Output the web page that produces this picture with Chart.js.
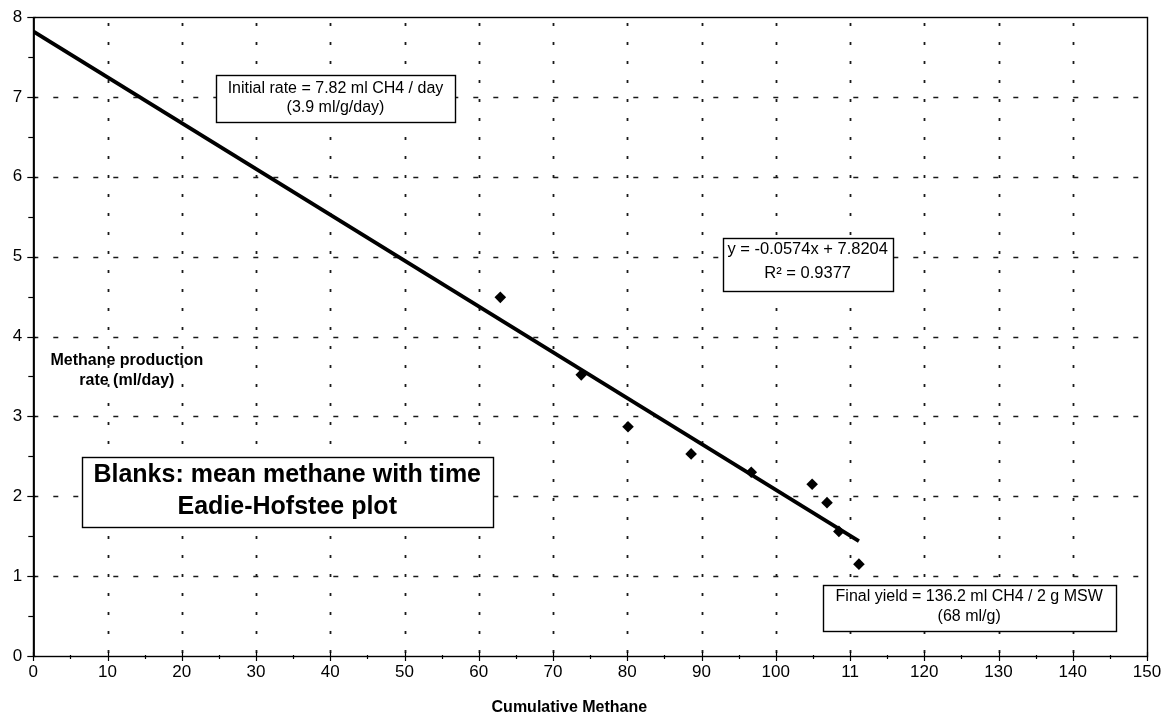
<!DOCTYPE html>
<html>
<head>
<meta charset="utf-8">
<title>Blanks: mean methane with time - Eadie-Hofstee plot</title>
<script src="https://cdn.jsdelivr.net/npm/chart.js@4"></script>
<style>
    body { margin: 0; background: #fff; }
    #plot { display: block; }
</style>
</head>
<body>
<canvas id="plot" width="1163" height="715"></canvas>
<script>
// measured points
const cumulativeMethane = [62.9, 73.8, 80.1, 88.6, 96.7, 104.9, 106.9, 108.5, 111.2];
const productionRate = [4.49, 3.52, 2.87, 2.53, 2.30, 2.15, 1.92, 1.56, 1.15];

// linear fit shown on the chart
const trendSlope = -0.0574;
const trendIntercept = 7.8204;

// axis labels
const xTickLabels = ['0', '10', '20', '30', '40', '50', '60', '70', '80', '90', '100', '11', '120', '130', '140', '150'];
const yTickLabels = ['0', '1', '2', '3', '4', '5', '6', '7', '8'];

const FONT = '"Liberation Sans", Arial, Helvetica, sans-serif';

// trend line runs from the y axis to the last measured point
const trendEnd = Math.max(...cumulativeMethane);
const trendPoints = [0, trendEnd].map(x => ({ x: x, y: trendSlope * x + trendIntercept }));

// text boxes: centre in data units, size in px
const notes = [
    { x: 40.7, y: 6.98, w: 239, h: 47, font: '16px ' + FONT, gap: 19, dy: 0,
      lines: ['Initial rate = 7.82 ml CH4 / day', '(3.9 ml/g/day)'] },
    { x: 104.3, y: 4.905, w: 170, h: 53, font: '16.5px ' + FONT, gap: 24, dy: -3,
      lines: ['y = -0.0574x + 7.8204', 'R² = 0.9377'] },
    { x: 34.2, y: 2.05, w: 411, h: 70, font: 'bold 25px ' + FONT, gap: 32, dy: -1,
      lines: ['Blanks: mean methane with time', 'Eadie-Hofstee plot'] },
    { x: 126.05, y: 0.6, w: 293, h: 46, font: '16px ' + FONT, gap: 20, dy: -1,
      lines: ['Final yield = 136.2 ml CH4 / 2 g MSW', '(68 ml/g)'] }
];

// axis titles, drawn without a box
const yTitle = { x: 12.6, y: 3.575, font: 'bold 16px ' + FONT, gap: 20, dy: 0,
    lines: ['Methane production', 'rate (ml/day)'] };
const xTitle = { x: 72.2, font: 'bold 16px ' + FONT, gap: 0, dy: 0,
    lines: ['Cumulative Methane'] };

// dashed horizontal and dotted vertical grid, plus Excel-like tick marks
const gridPlugin = {
    id: 'excelGrid',
    beforeDatasetsDraw(chart) {
        const { ctx, chartArea: a, scales: { x, y } } = chart;
        ctx.save();
        ctx.strokeStyle = '#1a1a1a';

        ctx.lineWidth = 1.4;
        ctx.setLineDash([5, 15]);
        for (let v = 1; v < 8; v++) {
            const py = Math.round(y.getPixelForValue(v)) + 0.5;
            ctx.beginPath();
            ctx.moveTo(a.left, py);
            ctx.lineTo(a.right, py);
            ctx.stroke();
        }

        ctx.lineWidth = 1.8;
        ctx.setLineDash([3, 16]);
        for (let v = 10; v < 150; v += 10) {
            const px = Math.round(x.getPixelForValue(v)) + 0.5;
            ctx.beginPath();
            ctx.moveTo(px, a.top + 6);
            ctx.lineTo(px, a.bottom);
            ctx.stroke();
        }
        ctx.setLineDash([]);

        // tick marks
        ctx.lineWidth = 1.2;
        ctx.strokeStyle = '#000';
        for (let v = 0; v <= 8; v += 0.5) {
            const py = Math.round(y.getPixelForValue(v)) + 0.5;
            const major = Number.isInteger(v);
            ctx.beginPath();
            ctx.moveTo(a.left - (major ? 6 : 5), py);
            ctx.lineTo(a.left + (major ? 3 : 0), py);
            ctx.stroke();
        }
        for (let v = 0; v <= 150; v += 5) {
            const px = Math.round(x.getPixelForValue(v)) + 0.5;
            const major = v % 10 === 0;
            ctx.beginPath();
            ctx.moveTo(px, a.bottom - (major ? 4 : 1));
            ctx.lineTo(px, a.bottom + (major ? 5 : 3));
            ctx.stroke();
        }

        // plot frame
        ctx.lineWidth = 1.4;
        ctx.strokeRect(a.left + 0.5, a.top + 0.5, a.right - a.left, a.bottom - a.top);
        ctx.lineWidth = 2;
        ctx.beginPath();
        ctx.moveTo(a.left + 0.5, a.top);
        ctx.lineTo(a.left + 0.5, a.bottom + 1);
        ctx.stroke();
        ctx.restore();
    }
};

function drawLines(ctx, cx, cy, item) {
    ctx.font = item.font;
    ctx.fillStyle = '#000';
    ctx.textAlign = 'center';
    ctx.textBaseline = 'middle';
    const top = cy + item.dy - item.gap * (item.lines.length - 1) / 2;
    item.lines.forEach((line, i) => ctx.fillText(line, cx, top + i * item.gap));
}

// annotation boxes drawn over the data
const notesPlugin = {
    id: 'notes',
    afterDatasetsDraw(chart) {
        const { ctx, scales: { x, y } } = chart;
        ctx.save();
        notes.forEach(n => {
            const cx = x.getPixelForValue(n.x);
            const cy = y.getPixelForValue(n.y);
            const left = Math.round(cx - n.w / 2) + 0.5;
            const top = Math.round(cy - n.h / 2) + 0.5;
            ctx.fillStyle = '#fff';
            ctx.fillRect(left, top, n.w, n.h);
            ctx.lineWidth = 1.4;
            ctx.strokeStyle = '#000';
            ctx.strokeRect(left, top, n.w, n.h);
            drawLines(ctx, cx, cy, n);
        });
        drawLines(ctx, x.getPixelForValue(yTitle.x), y.getPixelForValue(yTitle.y), yTitle);
        drawLines(ctx, x.getPixelForValue(xTitle.x), chart.height - 7, xTitle);
        ctx.restore();
    }
};

// keep label overhang from shrinking the plot area
function noOverhang(scale) {
    scale.paddingTop = 0;
    scale.paddingBottom = 0;
    scale.paddingLeft = 0;
    scale.paddingRight = 0;
}

new Chart(document.getElementById('plot'), {
    type: 'scatter',
    data: {
        datasets: [
            {
                label: 'Methane production rate',
                data: cumulativeMethane.map((x, i) => ({ x: x, y: productionRate[i] })),
                pointStyle: 'rectRot',
                pointRadius: 5.8,
                pointBackgroundColor: '#000',
                pointBorderColor: '#000',
                pointBorderWidth: 0,
                order: 1
            },
            {
                label: 'Linear fit',
                data: trendPoints,
                showLine: true,
                borderColor: '#000',
                borderWidth: 3.8,
                pointRadius: 0,
                order: 2
            }
        ]
    },
    options: {
        responsive: false,
        animation: false,
        layout: { padding: { top: 17, right: 16, left: 0, bottom: 0 } },
        plugins: {
            legend: { display: false },
            tooltip: { enabled: false }
        },
        scales: {
            x: {
                type: 'linear',
                min: 0,
                max: 150,
                afterFit(scale) { scale.height = 59; noOverhang(scale); },
                ticks: {
                    stepSize: 10,
                    autoSkip: false,
                    maxRotation: 0,
                    padding: 6,
                    color: '#000',
                    font: { family: FONT, size: 17 },
                    callback: (value, index) => xTickLabels[index]
                },
                grid: { display: false, drawTicks: false },
                border: { display: false }
            },
            y: {
                type: 'linear',
                min: 0,
                max: 8,
                afterFit(scale) { scale.width = 33.3; noOverhang(scale); },
                ticks: {
                    stepSize: 1,
                    padding: 11,
                    color: '#000',
                    font: { family: FONT, size: 17 },
                    callback: (value, index) => yTickLabels[index]
                },
                grid: { display: false, drawTicks: false },
                border: { display: false }
            }
        }
    },
    plugins: [gridPlugin, notesPlugin]
});
</script>
</body>
</html>
